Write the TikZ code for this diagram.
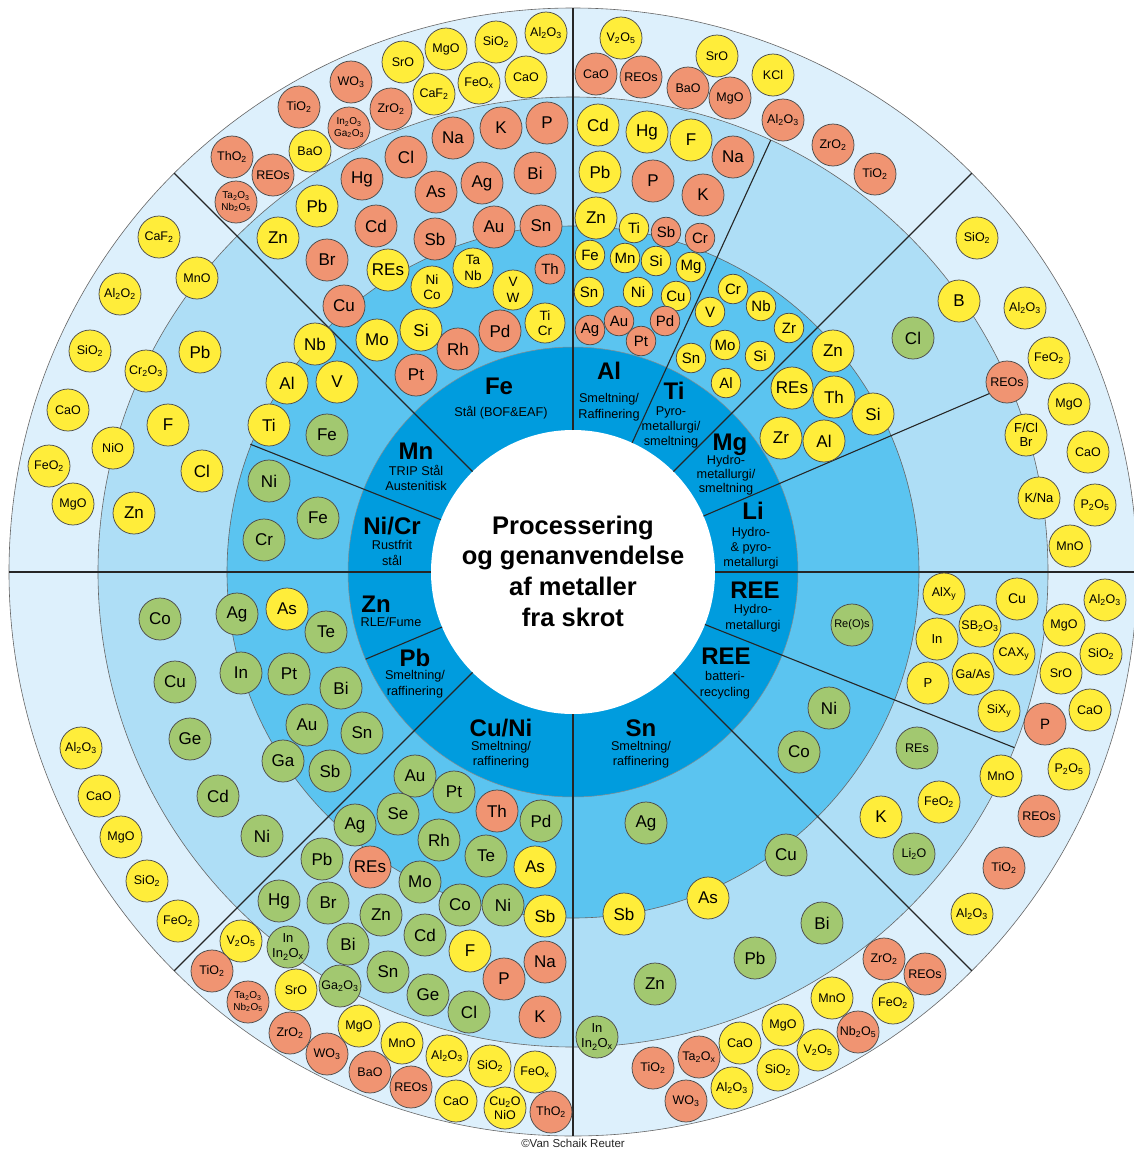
\documentclass[tikz,border=0pt]{standalone}
\usepackage{fontspec}
\setmainfont{Liberation Sans}
\newcommand\ix[1]{\textsubscript{#1}}
\definecolor{ringO}{RGB}{221,240,252}
\definecolor{ringL}{RGB}{174,222,246}
\definecolor{ringM}{RGB}{91,196,240}
\definecolor{ringD}{RGB}{0,156,222}
\definecolor{cyel}{RGB}{255,237,58}
\definecolor{csal}{RGB}{240,148,114}
\definecolor{cgrn}{RGB}{162,200,112}
\tikzset{
  ball/.style={circle, draw=black!70, line width=0.75pt, inner sep=0pt, minimum size=42pt, align=center},
  cbig/.style={ball, font=\fontsize{17}{17}\selectfont},
  cox/.style={ball, font=\fontsize{12.5}{14}\selectfont},
  csm/.style={ball, minimum size=29.5pt, font=\fontsize{15}{15}\selectfont},
  cduo/.style={ball, font=\fontsize{13.5}{15.5}\selectfont},
  ctiny/.style={ball, font=\fontsize{10}{11.5}\selectfont},
  yel/.style={fill=cyel}, sal/.style={fill=csal}, grn/.style={fill=cgrn},
  divider/.style={draw=black!85, line width=1.1pt},
  ringedge/.style={draw=black!60, line width=0.6pt},
  ttl/.style={font=\bfseries\fontsize{24}{24}\selectfont},
  subt/.style={font=\fontsize{12.7}{15}\selectfont, align=center},
  head/.style={font=\bfseries\fontsize{25.5}{25.5}\selectfont, anchor=base},
}
\begin{document}
\begin{tikzpicture}[x=1pt,y=-1pt]
\useasboundingbox (0,0) rectangle (1134,1149);
\fill[white] (0,0) rectangle (1134,1149);
\coordinate (c) at (573,572);

% concentric rings
\filldraw[fill=ringO, ringedge] (c) circle[radius=564pt];
\filldraw[fill=ringL, ringedge] (c) circle[radius=475pt];
\filldraw[fill=ringM, ringedge] (c) circle[radius=346pt];
\filldraw[fill=ringD, draw=black!45, line width=0.5pt] (c) circle[radius=225pt];
\fill[white] (c) circle[radius=142pt];

% radial dividers: angle / inner radius / outer radius
\foreach \a/\ra/\rb in {90/142/564, 65.4/142/475, 45/142/564, 23.2/142/474,
    0/142/564, -21.7/142/475, -45/142/564, -90/142/564, 225/142/564,
    202.8/142/225, 180/142/564, 158.4/142/347, 135/142/564}
  \draw[divider] ([shift={(c)}]\a:\ra pt) -- ([shift={(c)}]\a:\rb pt);

% ---------- Fe sector ----------
\node[cox,sal] (fo1) at (351,82) {WO\ix3};
\node[cox,sal] (fo2) at (299,107) {TiO\ix2};
\node[ctiny,sal] (fo3) at (349,128) {In\ix2O\ix3\\Ga\ix2O\ix3};
\node[cox,sal] (fo4) at (232,157) {ThO\ix2};
\node[cox,yel] (fo5) at (310,151) {BaO};
\node[cox,sal] (fo6) at (273,175) {REOs};
\node[ctiny,sal] (fo7) at (236,202) {Ta\ix2O\ix3\\Nb\ix2O\ix5};
\node[cox,sal] (fo8) at (391,109) {ZrO\ix2};
\node[cox,yel] (fo9) at (403,62) {SrO};
\node[cox,yel] (fo10) at (446,49) {MgO};
\node[cox,yel] (fo11) at (496,42) {SiO\ix2};
\node[cox,yel] (fo12) at (546,33) {Al\ix2O\ix3};
\node[cox,yel] (fo13) at (434,94) {CaF\ix2};
\node[cox,yel] (fo14) at (479,83) {FeO\ix x};
\node[cox,yel] (fo15) at (526,77) {CaO};

\node[cbig,sal] (fl1) at (453,138) {Na};
\node[cbig,sal] (fl2) at (501,128) {K};
\node[cbig,sal] (fl3) at (547,123) {P};
\node[cbig,sal] (fl4) at (406,157) {Cl};
\node[cbig,sal] (fl5) at (436,192) {As};
\node[cbig,sal] (fl6) at (482,183) {Ag};
\node[cbig,sal] (fl7) at (535,173) {Bi};
\node[cbig,sal] (fl8) at (435,239) {Sb};
\node[cbig,sal] (fl9) at (494,227) {Au};
\node[cbig,sal] (fl10) at (541,226) {Sn};
\node[cbig,sal] (fl11) at (376,226) {Cd};
\node[cbig,sal] (fl12) at (362,179) {Hg};
\node[cbig,sal] (fl13) at (327,260) {Br};
\node[cbig,yel] (fl14) at (317,206) {Pb};
\node[cbig,yel] (fl15) at (278,238) {Zn};

\node[cbig,yel] (fm1) at (388,270) {REs};
\node[cduo,yel] (fm2) at (432,287) {Ni\\Co};
\node[cduo,yel, minimum size=40pt] (fm3) at (473,268) {Ta\\Nb};
\node[cduo,yel, minimum size=40pt] (fm4) at (513,290) {V\\W};
\node[csm,sal, minimum size=30pt] (fm5) at (550,269) {Th};
\node[cbig,sal] (fm6) at (344,306) {Cu};
\node[cbig,yel] (fm7) at (377,340) {Mo};
\node[cbig,yel] (fm8) at (421,330) {Si};
\node[cbig,sal] (fm9) at (458,349) {Rh};
\node[cbig,sal] (fm10) at (500,331) {Pd};
\node[cduo,yel, minimum size=40pt] (fm11) at (545,323) {Ti\\Cr};
\node[cbig,sal] (fm12) at (416,375) {Pt};

% ---------- Al / Ti sectors ----------
\node[cox,yel] (ao1) at (621,38) {V\ix2O\ix5};
\node[cox,sal] (ao2) at (596,74) {CaO};
\node[cox,sal] (ao3) at (641,77) {REOs};
\node[cox,yel] (ao4) at (717,56) {SrO};
\node[cox,sal] (ao5) at (688,88) {BaO};
\node[cox,sal] (ao6) at (730,98) {MgO};
\node[cox,yel] (ao7) at (773,75) {KCl};
\node[cox,sal] (ao8) at (783,120) {Al\ix2O\ix3};
\node[cox,sal] (ao9) at (833,145) {ZrO\ix2};
\node[cox,sal] (ao10) at (875,174) {TiO\ix2};

\node[cbig,yel] (al1) at (598,125) {Cd};
\node[cbig,yel] (al2) at (647,132) {Hg};
\node[cbig,yel] (al3) at (691,140) {F};
\node[cbig,sal] (al4) at (733,157) {Na};
\node[cbig,yel] (al5) at (600,172) {Pb};
\node[cbig,sal] (al6) at (653,181) {P};
\node[cbig,sal] (al7) at (703,195) {K};
\node[cbig,yel] (al8) at (596,218) {Zn};

\node[csm,yel] (am1) at (634,228) {Ti};
\node[csm,sal] (am2) at (666,232) {Sb};
\node[csm,sal] (am3) at (700,238) {Cr};
\node[csm,yel] (am4) at (590,255) {Fe};
\node[csm,yel] (am5) at (625,258) {Mn};
\node[csm,yel] (am6) at (656,261) {Si};
\node[csm,yel] (am7) at (691,267) {Mg};
\node[csm,yel] (am8) at (589,292) {Sn};
\node[csm,yel] (am9) at (638,292) {Ni};
\node[csm,yel] (am10) at (676,296) {Cu};
\node[csm,sal] (am11) at (590,330) {Ag};
\node[csm,sal] (am12) at (619,321) {Au};
\node[csm,sal] (am13) at (641,341) {Pt};
\node[csm,sal] (am14) at (665,321) {Pd};

\node[csm,yel] (tm1) at (710,312) {V};
\node[csm,yel] (tm2) at (733,289) {Cr};
\node[csm,yel] (tm3) at (761,306) {Nb};
\node[csm,yel] (tm4) at (789,328) {Zr};
\node[csm,yel] (tm5) at (725,345) {Mo};
\node[csm,yel] (tm6) at (760,356) {Si};
\node[csm,yel] (tm7) at (691,358) {Sn};
\node[csm,yel] (tm8) at (726,383) {Al};

% ---------- Mg / Li sectors ----------
\node[cbig,yel] (gm1) at (833,351) {Zn};
\node[cbig,yel] (gm2) at (792,388) {REs};
\node[cbig,yel] (gm3) at (834,397) {Th};
\node[cbig,yel] (gm4) at (873,414) {Si};
\node[cbig,yel] (gm5) at (781,438) {Zr};
\node[cbig,yel] (gm6) at (824,441) {Al};
\node[cbig,grn] (gl1) at (913,338) {Cl};
\node[cbig,yel] (gl2) at (959,301) {B};
\node[cox,sal] (gl3) at (1007,382) {REOs};

\node[cox,yel] (go1) at (977,238) {SiO\ix2};
\node[cox,yel] (go2) at (1025,308) {Al\ix2O\ix3};
\node[cox,yel] (go3) at (1049,358) {FeO\ix2};
\node[cox,yel] (go4) at (1069,404) {MgO};
\node[cox,yel, font=\fontsize{13}{14.5}\selectfont] (go5) at (1026,435) {F/Cl\\Br};
\node[cox,yel] (go6) at (1088,452) {CaO};
\node[cox,yel, font=\fontsize{13}{14}\selectfont] (go7) at (1039,498) {K/Na};
\node[cox,yel] (go8) at (1095,505) {P\ix2O\ix5};
\node[cox,yel] (go9) at (1070,546) {MnO};

% ---------- REE sectors ----------
\node[cox,grn, font=\fontsize{11}{12}\selectfont] (rm1) at (852,625) {Re(O)s};
\node[cox,yel] (rl1) at (944,594) {AlX\ix y};
\node[cox,yel, font=\fontsize{14}{14}\selectfont] (rl2) at (1017,599) {Cu};
\node[cox,yel, font=\fontsize{13}{13}\selectfont] (rl3) at (937,639) {In};
\node[cox,yel] (rl4) at (980,626) {SB\ix2O\ix3};
\node[cox,yel] (rl5) at (1014,654) {CAX\ix y};
\node[cox,yel, font=\fontsize{13}{13}\selectfont] (rl6) at (928,683) {P};
\node[cox,yel] (rl7) at (973,674) {Ga/As};
\node[cox,yel] (rl8) at (999,711) {SiX\ix y};

\node[cox,yel] (ro1) at (1105,600) {Al\ix2O\ix3};
\node[cox,yel] (ro2) at (1064,625) {MgO};
\node[cox,yel] (ro3) at (1101,654) {SiO\ix2};
\node[cox,yel] (ro4) at (1061,673) {SrO};
\node[cox,yel] (ro5) at (1090,710) {CaO};
\node[cox,sal, font=\fontsize{15}{15}\selectfont] (ro6) at (1045,724) {P};
\node[cox,yel] (ro7) at (1069,769) {P\ix2O\ix5};
\node[cox,sal] (ro8) at (1039,816) {REOs};
\node[cox,sal] (ro9) at (1004,868) {TiO\ix2};
\node[cox,yel] (ro10) at (972,914) {Al\ix2O\ix3};

\node[cbig,grn] (bm1) at (829,708) {Ni};
\node[cbig,grn] (bm2) at (799,752) {Co};
\node[cox,grn] (bl1) at (917,748) {REs};
\node[cox,yel] (bl2) at (939,802) {FeO\ix2};
\node[cbig,yel] (bl3) at (881,817) {K};
\node[cox,grn] (bl4) at (914,854) {Li\ix2O};
\node[cox,yel] (bl5) at (1001,776) {MnO};

% ---------- Sn sector ----------
\node[cbig,grn] (sm1) at (646,823) {Ag};
\node[cbig,grn] (sm2) at (786,855) {Cu};
\node[cbig,yel] (sm3) at (708,898) {As};
\node[cbig,yel] (sm4) at (624,914) {Sb};
\node[cbig,grn] (sl1) at (822,923) {Bi};
\node[cbig,grn] (sl2) at (755,958) {Pb};
\node[cbig,grn] (sl3) at (655,984) {Zn};
\node[cduo,grn, font=\fontsize{13}{15}\selectfont] (sl4) at (597,1037) {In\\In\ix2O\ix x};

\node[cox,sal] (so1) at (653,1068) {TiO\ix2};
\node[cox,sal] (so2) at (699,1057) {Ta\ix2O\ix x};
\node[cox,yel] (so3) at (740,1043) {CaO};
\node[cox,sal] (so4) at (686,1101) {WO\ix3};
\node[cox,yel] (so5) at (732,1088) {Al\ix2O\ix3};
\node[cox,yel] (so6) at (783,1025) {MgO};
\node[cox,yel] (so7) at (778,1070) {SiO\ix2};
\node[cox,yel] (so8) at (818,1050) {V\ix2O\ix5};
\node[cox,yel] (so9) at (832,998) {MnO};
\node[cox,sal] (so10) at (858,1032) {Nb\ix2O\ix5};
\node[cox,yel] (so11) at (893,1003) {FeO\ix2};
\node[cox,sal] (so12) at (884,959) {ZrO\ix2};
\node[cox,sal] (so13) at (925,974) {REOs};

% ---------- Cu/Ni sector ----------
\node[cbig,grn] (cm1) at (415,776) {Au};
\node[cbig,grn] (cm2) at (454,792) {Pt};
\node[cbig,grn] (cm3) at (398,814) {Se};
\node[cbig,sal] (cm4) at (497,811) {Th};
\node[cbig,grn] (cm5) at (541,821) {Pd};
\node[cbig,grn] (cm6) at (439,840) {Rh};
\node[cbig,grn] (cm7) at (486,856) {Te};
\node[cbig,yel] (cm8) at (535,867) {As};
\node[cbig,grn] (cm9) at (355,825) {Ag};
\node[cbig,grn] (cm10) at (420,882) {Mo};
\node[cbig,grn] (cm11) at (460,905) {Co};
\node[cbig,grn] (cm12) at (503,905) {Ni};
\node[cbig,yel] (cm13) at (545,916) {Sb};

\node[cbig,grn] (cl1) at (322,859) {Pb};
\node[cbig,sal] (cl2) at (370,867) {REs};
\node[cbig,grn] (cl3) at (279,901) {Hg};
\node[cbig,grn] (cl4) at (328,903) {Br};
\node[cbig,grn] (cl5) at (381,915) {Zn};
\node[cbig,grn] (cl6) at (348,944) {Bi};
\node[cbig,grn] (cl7) at (425,935) {Cd};
\node[cbig,yel] (cl8) at (470,951) {F};
\node[cbig,sal] (cl9) at (545,962) {Na};
\node[cbig,grn] (cl10) at (388,972) {Sn};
\node[cbig,sal] (cl11) at (504,979) {P};
\node[cbig,grn] (cl12) at (428,995) {Ge};
\node[cbig,grn] (cl13) at (469,1012) {Cl};
\node[cbig,sal] (cl14) at (540,1017) {K};
\node[cduo,grn, font=\fontsize{13}{15}\selectfont] (cl15) at (288,947) {In\\In\ix2O\ix x};
\node[cox,grn] (cl16) at (340,986) {Ga\ix2O\ix3};

\node[cox,yel] (co1) at (241,941) {V\ix2O\ix5};
\node[cox,sal] (co2) at (212,971) {TiO\ix2};
\node[ctiny,sal] (co3) at (248,1002) {Ta\ix2O\ix3\\Nb\ix2O\ix5};
\node[cox,yel] (co4) at (296,990) {SrO};
\node[cox,sal] (co5) at (290,1033) {ZrO\ix2};
\node[cox,sal] (co6) at (327,1054) {WO\ix3};
\node[cox,yel] (co7) at (359,1026) {MgO};
\node[cox,sal] (co8) at (370,1072) {BaO};
\node[cox,yel] (co9) at (402,1043) {MnO};
\node[cox,sal] (co10) at (411,1087) {REOs};
\node[cox,yel] (co11) at (447,1056) {Al\ix2O\ix3};
\node[cox,yel] (co12) at (456,1101) {CaO};
\node[cox,yel] (co13) at (490,1066) {SiO\ix2};
\node[cox,yel, font=\fontsize{12.5}{14}\selectfont] (co14) at (505,1108) {Cu\ix2O\\NiO};
\node[cox,yel] (co15) at (535,1072) {FeO\ix x};
\node[cox,sal] (co16) at (551,1112) {ThO\ix2};

% ---------- Zn / Pb sector ----------
\node[cbig,grn] (zm1) at (237,614) {Ag};
\node[cbig,yel] (zm2) at (287,609) {As};
\node[cbig,grn] (zm3) at (326,632) {Te};
\node[cbig,grn] (zm4) at (241,673) {In};
\node[cbig,grn] (zm5) at (289,674) {Pt};
\node[cbig,grn] (zm6) at (341,688) {Bi};
\node[cbig,grn] (zm7) at (307,725) {Au};
\node[cbig,grn] (zm8) at (362,733) {Sn};
\node[cbig,grn] (zm9) at (283,761) {Ga};
\node[cbig,grn] (zm10) at (330,771) {Sb};

\node[cbig,grn] (zl1) at (160,619) {Co};
\node[cbig,grn] (zl2) at (175,682) {Cu};
\node[cbig,grn] (zl3) at (190,739) {Ge};
\node[cbig,grn] (zl4) at (218,796) {Cd};
\node[cbig,grn] (zl5) at (262,836) {Ni};

\node[cox,yel] (zo1) at (81,748) {Al\ix2O\ix3};
\node[cox,yel] (zo2) at (99,796) {CaO};
\node[cox,yel] (zo3) at (121,837) {MgO};
\node[cox,yel] (zo4) at (147,881) {SiO\ix2};
\node[cox,yel] (zo5) at (178,921) {FeO\ix2};

% ---------- Mn and Ni/Cr sectors ----------
\node[cbig,yel] (mm1) at (315,344) {Nb};
\node[cbig,yel] (mm2) at (287,383) {Al};
\node[cbig,yel] (mm3) at (337,382) {V};
\node[cbig,yel] (mm4) at (269,425) {Ti};
\node[cbig,grn] (mm5) at (327,435) {Fe};
\node[cbig,grn] (nm1) at (269,481) {Ni};
\node[cbig,grn] (nm2) at (318,518) {Fe};
\node[cbig,grn] (nm3) at (264,540) {Cr};

\node[cbig,yel] (ml1) at (200,352) {Pb};
\node[cbig,yel] (ml2) at (168,425) {F};
\node[cbig,yel] (ml3) at (202,471) {Cl};
\node[cbig,yel] (ml4) at (134,513) {Zn};
\node[cox,yel] (ml5) at (197,278) {MnO};
\node[cox,yel] (ml6) at (146,371) {Cr\ix2O\ix3};
\node[cox,yel] (ml7) at (113,448) {NiO};

\node[cox,yel] (mo1) at (159,237) {CaF\ix2};
\node[cox,yel] (mo2) at (120,294) {Al\ix2O\ix2};
\node[cox,yel] (mo3) at (90,351) {SiO\ix2};
\node[cox,yel] (mo4) at (68,410) {CaO};
\node[cox,yel] (mo5) at (49,466) {FeO\ix2};
\node[cox,yel] (mo6) at (73,504) {MgO};

% ---------- process labels in the inner ring ----------
\node[ttl] (tFe) at (499,386) {Fe};
\node[subt] (sFe) at (501,413) {Stål (BOF\&EAF)};
\node[ttl] (tAl) at (609,371) {Al};
\node[subt, font=\fontsize{12.7}{16}\selectfont] (sAl) at (609,407) {Smeltning/\\Raffinering};
\node[ttl] (tTi) at (674,391) {Ti};
\node[subt] (sTi) at (671,427) {Pyro-\\metallurgi/\\smeltning};
\node[ttl] (tMg) at (730,445) {Mg};
\node[subt, font=\fontsize{12.7}{14.2}\selectfont] (sMg) at (726,475) {Hydro-\\metallurgi/\\smeltning};
\node[ttl] (tLi) at (753,511) {Li};
\node[subt] (sLi) at (751,548) {Hydro-\\\& pyro-\\metallurgi};
\node[ttl] (tREa) at (755,590) {REE};
\node[subt, font=\fontsize{12.7}{16}\selectfont] (sREa) at (753,618) {Hydro-\\metallurgi};
\node[ttl] (tREb) at (726,656) {REE};
\node[subt, font=\fontsize{12.7}{16}\selectfont] (sREb) at (725,685) {batteri-\\recycling};
\node[ttl] (tSn) at (641,728) {Sn};
\node[subt] (sSn) at (641,755) {Smeltning/\\raffinering};
\node[ttl] (tCu) at (501,728) {Cu/Ni};
\node[subt] (sCu) at (501,755) {Smeltning/\\raffinering};
\node[ttl] (tPb) at (415,658) {Pb};
\node[subt, font=\fontsize{12.7}{16}\selectfont] (sPb) at (415,684) {Smeltning/\\raffinering};
\node[ttl] (tZn) at (376,604) {Zn};
\node[subt] (sZn) at (391,622) {RLE/Fume};
\node[ttl] (tNi) at (392,526) {Ni/Cr};
\node[subt, font=\fontsize{12.7}{16}\selectfont] (sNi) at (392,553) {Rustfrit\\stål};
\node[ttl] (tMn) at (416,451) {Mn};
\node[subt] (sMn) at (416,478) {TRIP Stål\\Austenitisk};

% ---------- centre heading ----------
\node[head] (h1) at (573,534) {Processering};
\node[head] (h2) at (573,564.5) {og genanvendelse};
\node[head] (h3) at (573,595) {af metaller};
\node[head] (h4) at (573,626) {fra skrot};

\node[font=\fontsize{11.5}{12}\selectfont, text=black!85] (copy) at (573,1143) {©Van Schaik Reuter};
\end{tikzpicture}
\end{document}
